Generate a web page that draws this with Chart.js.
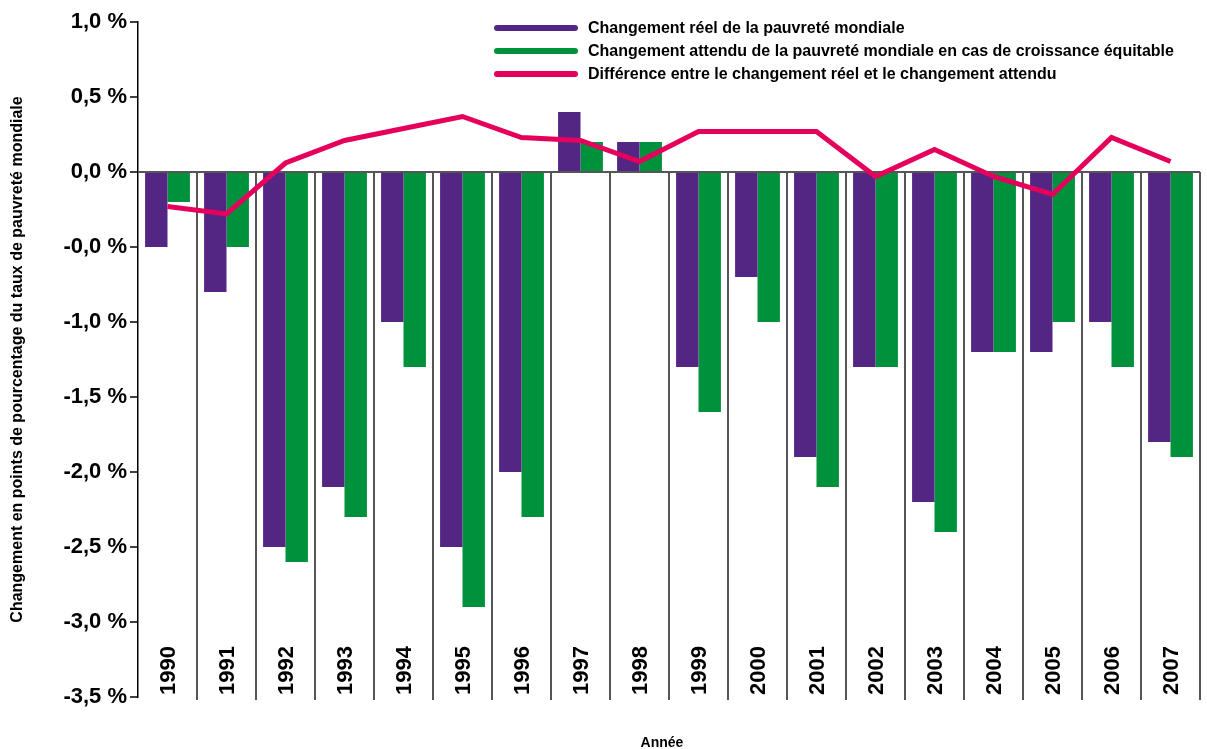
<!DOCTYPE html>
<html>
<head>
<meta charset="utf-8">
<script src="https://cdn.jsdelivr.net/npm/chart.js@4"></script>
<style>
  html, body { margin: 0; padding: 0; background: #fff; }
  #wrap { width: 1207px; height: 749px; }
</style>
</head>
<body>
<div id="wrap"><canvas id="graphique"></canvas></div>
<script>
const annees = ['1990', '1991', '1992', '1993', '1994', '1995', '1996', '1997', '1998',
    '1999', '2000', '2001', '2002', '2003', '2004', '2005', '2006', '2007'];
const changementReel = [-0.5, -0.8, -2.5, -2.1, -1.0, -2.5, -2.0, 0.4, 0.2,
    -1.3, -0.7, -1.9, -1.3, -2.2, -1.2, -1.2, -1.0, -1.8];
const changementAttendu = [-0.2, -0.5, -2.6, -2.3, -1.3, -2.9, -2.3, 0.2, 0.2,
    -1.6, -1.0, -2.1, -1.3, -2.4, -1.2, -1.0, -1.3, -1.9];
const difference = [-0.23, -0.28, 0.06, 0.21, 0.29, 0.37, 0.23, 0.21, 0.07,
    0.27, 0.27, 0.27, -0.03, 0.15, -0.03, -0.15, 0.23, 0.07];
const valeursTicks = [-3.5, -3.0, -2.5, -2.0, -1.5, -1.0, -0.5, 0.0, 0.5, 1.0];
const libellesTicks = ['-3,5 %', '-3,0 %', '-2,5 %', '-2,0 %', '-1,5 %', '-1,0 %', '-0,0 %', '0,0 %', '0,5 %', '1,0 %'];

const violet = '#532683';
const vert = '#00913d';
const rose = '#e4005b';
const police = '"Liberation Sans", Arial, sans-serif';

// separateurs verticaux, annees dans le graphique, legende et titre "Année"
const decorations = {
    id: 'decorations',
    beforeDatasetsDraw(chart) {
        const ctx = chart.ctx;
        const x = chart.scales.x;
        const y = chart.scales.y;
        const zero = y.getPixelForValue(0);
        const bas = chart.chartArea.bottom + 3;
        const pas = x.getPixelForValue(1) - x.getPixelForValue(0);
        ctx.save();
        ctx.strokeStyle = '#555';
        ctx.lineWidth = 2;
        for (let i = 1; i <= annees.length; i++) {
            const px = Math.round(x.getPixelForValue(i) - pas / 2);
            ctx.beginPath();
            ctx.moveTo(px, zero);
            ctx.lineTo(px, bas);
            ctx.stroke();
        }
        ctx.restore();
    },
    afterDraw(chart) {
        const ctx = chart.ctx;
        const x = chart.scales.x;
        const bas = chart.chartArea.bottom;
        ctx.save();
        ctx.fillStyle = '#000';
        ctx.font = 'bold 22px ' + police;
        ctx.textAlign = 'left';
        ctx.textBaseline = 'middle';
        annees.forEach(function (a, i) {
            ctx.save();
            ctx.translate(x.getPixelForValue(i), bas - 2);
            ctx.rotate(-Math.PI / 2);
            ctx.fillText(a, 0, 1);
            ctx.restore();
        });

        ctx.font = 'bold 14px ' + police;
        ctx.textAlign = 'center';
        ctx.fillText('Année', 662, 743);

        ctx.font = 'bold 16px ' + police;
        ctx.textAlign = 'left';
        ctx.lineCap = 'round';
        ctx.lineWidth = 6;
        chart.data.datasets.forEach(function (ds, i) {
            const ly = 28 + i * 23;
            ctx.strokeStyle = ds.couleurLegende;
            ctx.beginPath();
            ctx.moveTo(497, ly);
            ctx.lineTo(575, ly);
            ctx.stroke();
            ctx.fillStyle = '#000';
            ctx.fillText(ds.label, 588, ly + 1);
        });
        ctx.restore();
    }
};

new Chart(document.getElementById('graphique'), {
    type: 'bar',
    data: {
        labels: annees,
        datasets: [
            {
                label: 'Changement réel de la pauvreté mondiale',
                data: changementReel,
                backgroundColor: violet,
                couleurLegende: violet,
                order: 1
            },
            {
                label: 'Changement attendu de la pauvreté mondiale en cas de croissance équitable',
                data: changementAttendu,
                backgroundColor: vert,
                couleurLegende: vert,
                order: 2
            },
            {
                type: 'line',
                label: 'Différence entre le changement réel et le changement attendu',
                data: difference,
                borderColor: rose,
                couleurLegende: rose,
                borderWidth: 5,
                pointRadius: 0,
                tension: 0,
                borderJoinStyle: 'miter',
                order: 0
            }
        ]
    },
    options: {
        responsive: true,
        maintainAspectRatio: false,
        animation: false,
        categoryPercentage: 0.76,
        barPercentage: 1,
        layout: { padding: { top: 22, right: 7, bottom: 52, left: 0 } },
        plugins: {
            legend: { display: false },
            tooltip: { enabled: false }
        },
        scales: {
            x: {
                display: false,
                offset: true
            },
            y: {
                min: -3.5,
                max: 1.0,
                afterBuildTicks: function (axis) {
                    axis.ticks = valeursTicks.map(v => ({ value: v }));
                },
                afterFit: function (axis) {
                    axis.width = 138;
                },
                border: { display: true, color: '#000', width: 1.5 },
                grid: {
                    drawOnChartArea: true,
                    color: c => (c.tick && c.tick.value === 0) ? '#555' : 'rgba(0,0,0,0)',
                    lineWidth: 2,
                    tickColor: '#000',
                    tickLength: 8,
                    tickWidth: 1.5
                },
                ticks: {
                    color: '#000',
                    padding: 3,
                    font: { family: police, size: 22, weight: 'bold' },
                    callback: function (v) {
                        const i = valeursTicks.indexOf(v);
                        return i >= 0 ? libellesTicks[i] : '';
                    }
                },
                title: {
                    display: true,
                    text: 'Changement en points de pourcentage du taux de pauvreté mondiale',
                    color: '#000',
                    font: { family: police, size: 16, weight: 'bold' },
                    padding: { top: 8, bottom: 0 }
                }
            }
        }
    },
    plugins: [decorations]
});
</script>
</body>
</html>
